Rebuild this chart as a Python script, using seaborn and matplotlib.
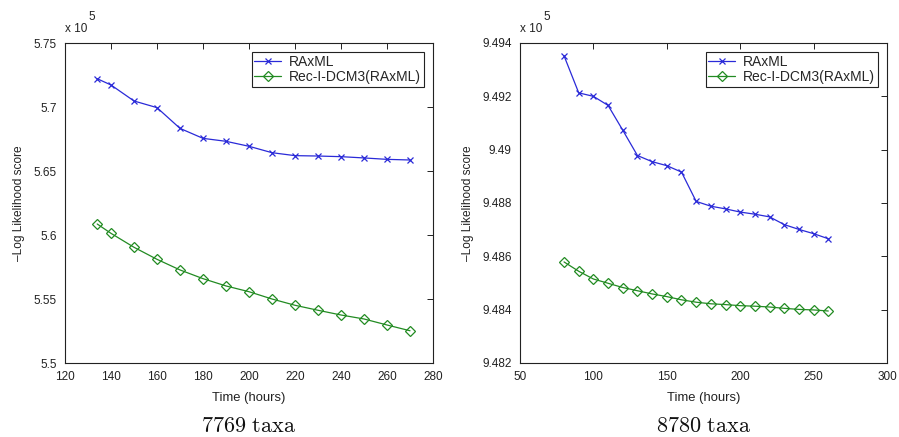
import matplotlib
matplotlib.use("Agg")
import matplotlib.pyplot as plt
import seaborn as sns
import pandas as pd

# ---------------- data (values in units of 10^5) ----------------
time_left = [134, 140, 150, 160, 170, 180, 190, 200, 210, 220, 230, 240, 250, 260, 270]
raxml_left = [5.7221, 5.7172, 5.7047, 5.6995, 5.6833, 5.6755, 5.6732, 5.6693,
              5.6643, 5.6620, 5.6617, 5.6612, 5.6602, 5.6591, 5.6586]
rec_left = [5.6086, 5.6013, 5.5904, 5.5810, 5.5727, 5.5659, 5.5602, 5.5557,
            5.5500, 5.5451, 5.5412, 5.5375, 5.5344, 5.5297, 5.5252]

time_right = [80, 90, 100, 110, 120, 130, 140, 150, 160, 170, 180, 190, 200,
              210, 220, 230, 240, 250, 260]
raxml_right = [9.49352, 9.49213, 9.49200, 9.49166, 9.49073, 9.48978, 9.48955,
               9.48940, 9.48916, 9.48806, 9.48788, 9.48778, 9.48766, 9.48758,
               9.48748, 9.48719, 9.48701, 9.48685, 9.48666]
rec_right = [9.48579, 9.48544, 9.48515, 9.48499, 9.48483, 9.48471, 9.48459,
             9.48449, 9.48437, 9.48428, 9.48422, 9.48419, 9.48415, 9.48413,
             9.48410, 9.48405, 9.48401, 9.48399, 9.48395]

series_names = ["RAxML", "Rec-I-DCM3(RAxML)"]
captions = ["7769 taxa", "8780 taxa"]
xlabel = "Time (hours)"
ylabel = "\u2013Log Likelihood score"
offset_base = "x 10"
offset_exp = "5"

xticks_left = [120, 140, 160, 180, 200, 220, 240, 260, 280]
yticks_left = [5.5, 5.55, 5.6, 5.65, 5.7, 5.75]
ytick_labels_left = ["5.5", "5.55", "5.6", "5.65", "5.7", "5.75"]
xticks_right = [50, 100, 150, 200, 250, 300]
yticks_right = [9.482, 9.484, 9.486, 9.488, 9.49, 9.492, 9.494]
ytick_labels_right = ["9.482", "9.484", "9.486", "9.488", "9.49", "9.492", "9.494"]

# ---------------- style ----------------
sns.set_style("white")
plt.rcParams["font.family"] = ["Liberation Sans", "DejaVu Sans"]
plt.rcParams["axes.linewidth"] = 0.8

BLUE = "#2a2ad8"
GREEN = "#228b22"
INK = "#222222"

fig = plt.figure(figsize=(8.99, 4.37), dpi=100)
ax_l = fig.add_axes([65 / 899, 74 / 437, 368 / 899, 320 / 437])
ax_r = fig.add_axes([520 / 899, 74 / 437, 367 / 899, 320 / 437])


def draw(ax, t, r, c, xticks, yticks, ylabs, xlim, ylim, caption):
    df = pd.DataFrame({"t": t, "raxml": r, "rec": c})
    sns.lineplot(data=df, x="t", y="raxml", ax=ax, color=BLUE, lw=0.9,
                 marker="x", markersize=4.5, markeredgewidth=0.9,
                 markeredgecolor=BLUE, label=series_names[0])
    sns.lineplot(data=df, x="t", y="rec", ax=ax, color=GREEN, lw=0.9,
                 marker="D", markersize=5.0, markeredgewidth=0.9,
                 markerfacecolor="none", markeredgecolor=GREEN,
                 label=series_names[1])
    ax.set_xlim(*xlim)
    ax.set_ylim(*ylim)
    ax.set_xticks(xticks)
    ax.set_xticklabels([str(v) for v in xticks])
    ax.set_yticks(yticks)
    ax.set_yticklabels(ylabs)
    ax.tick_params(direction="in", top=True, right=True, length=4,
                   width=0.7, labelsize=8.5, colors=INK, pad=6)
    for s in ax.spines.values():
        s.set_color(INK)
        s.set_visible(True)
    ax.set_xlabel(xlabel, fontsize=9.4, color=INK, labelpad=6)
    ax.set_ylabel(ylabel, fontsize=8.6, color=INK, labelpad=6)
    ax.annotate(offset_base, xy=(0, 1), xycoords="axes fraction",
                xytext=(0, 8), textcoords="offset pixels",
                fontsize=8.5, color=INK, ha="left", va="bottom")
    ax.annotate(offset_exp, xy=(0, 1), xycoords="axes fraction",
                xytext=(23, 20), textcoords="offset pixels",
                fontsize=8.5, color=INK, ha="left", va="bottom")
    leg = ax.legend(loc="upper right", fontsize=10, frameon=True, fancybox=False,
                    edgecolor=INK, framealpha=1, borderpad=0.2,
                    labelspacing=0.1, handlelength=1.9, handletextpad=0.6,
                    borderaxespad=0.65)
    leg.get_frame().set_linewidth(0.8)
    ax.text(0.5, -0.2, r"$\mathrm{" + caption.replace(" ", r"\ ") + "}$",
            transform=ax.transAxes, ha="center", va="center", fontsize=16,
            math_fontfamily="cm", color="#111111")


draw(ax_l, time_left, raxml_left, rec_left, xticks_left, yticks_left,
     ytick_labels_left, (120, 280), (5.5, 5.75), captions[0])
draw(ax_r, time_right, raxml_right, rec_right, xticks_right, yticks_right,
     ytick_labels_right, (50, 300), (9.482, 9.494), captions[1])

fig.savefig("out.png", dpi=100)
